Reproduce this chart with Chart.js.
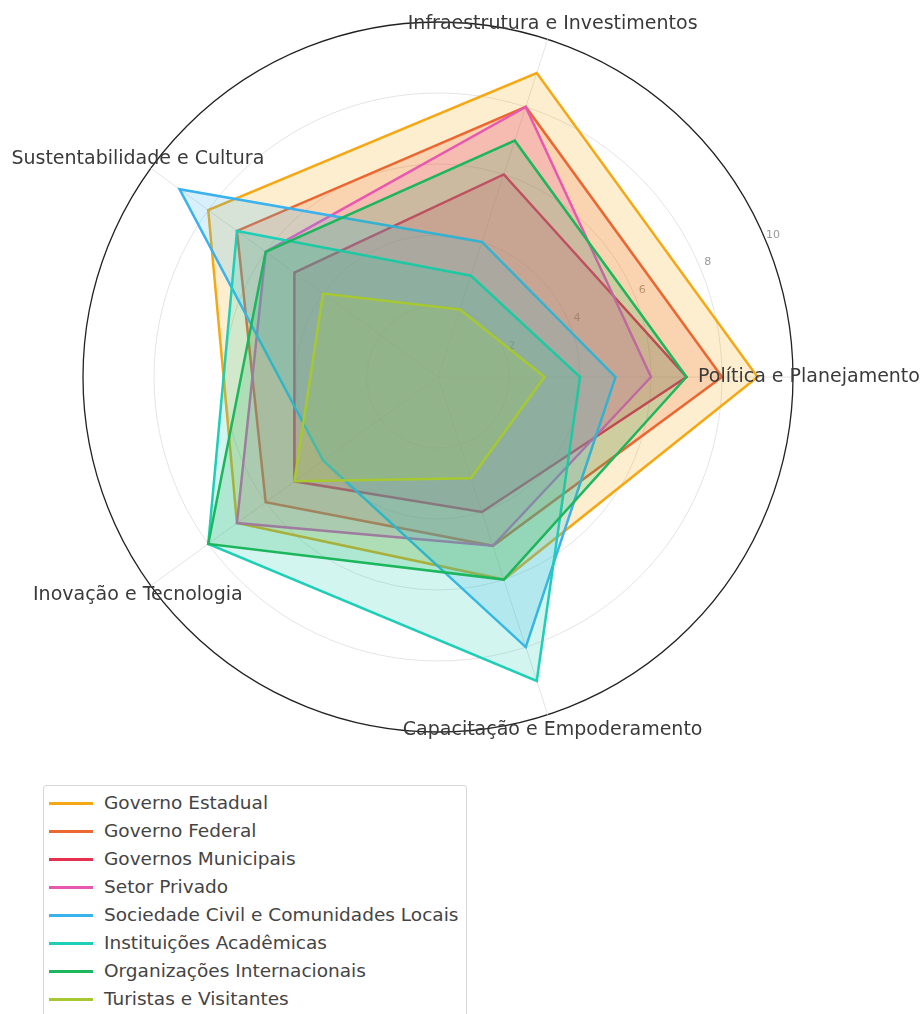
<!DOCTYPE html>
<html>
<head>
<meta charset="utf-8">
<title>Radar</title>
<script src="https://cdn.jsdelivr.net/npm/chart.js@4.4.1/dist/chart.umd.min.js"></script>
<style>
  html, body { margin: 0; padding: 0; background: #fff; }
  #wrap { position: relative; width: 924px; height: 1014px; overflow: hidden; }
  #radar { position: absolute; left: 0; top: 0; }
  #legend {
    position: absolute; left: 43px; top: 785px; width: 422px;
    border: 1px solid #d6d6d6; border-radius: 3px; background: #fff;
    padding: 3px 0 4px 0;
    font-family: "DejaVu Sans", sans-serif; font-size: 18.5px; color: #444;
  }
  #legend .item { height: 28px; line-height: 28px; display: flex; align-items: center; white-space: nowrap; }
  #legend .swatch { width: 44px; height: 3px; margin: 0 11px 0 5px; flex: none; }
</style>
</head>
<body>
<div id="wrap">
  <canvas id="radar" width="924" height="1014"></canvas>
  <div id="legend"></div>
</div>
<script>
// categories, counter-clockwise from the right like the original
const categorias = ['Política e Planejamento', 'Infraestrutura e Investimentos', 'Sustentabilidade e Cultura', 'Inovação e Tecnologia', 'Capacitação e Empoderamento']

const governoEstadual = [9, 9, 8, 7, 6]
const governoFederal = [8, 8, 7, 6, 5]
const governosMunicipais = [7, 6, 5, 5, 4]
const setorPrivado = [6, 8, 6, 7, 5]
const sociedadeCivil = [5, 4, 9, 4, 8]
const instituicoesAcademicas = [4, 3, 7, 8, 9]
const organizacoesInternacionais = [7, 7, 6, 8, 6]
const turistas = [3, 2, 4, 5, 3]

const tickValues = [2, 4, 6, 8, 10]

const series = [
  { label: 'Governo Estadual', data: governoEstadual, color: '245, 168, 20' },
  { label: 'Governo Federal', data: governoFederal, color: '236, 102, 48' },
  { label: 'Governos Municipais', data: governosMunicipais, color: '230, 48, 80' },
  { label: 'Setor Privado', data: setorPrivado, color: '232, 88, 176' },
  { label: 'Sociedade Civil e Comunidades Locais', data: sociedadeCivil, color: '58, 178, 238' },
  { label: 'Instituições Acadêmicas', data: instituicoesAcademicas, color: '30, 206, 182' },
  { label: 'Organizações Internacionais', data: organizacoesInternacionais, color: '28, 182, 92' },
  { label: 'Turistas e Visitantes', data: turistas, color: '166, 200, 48' }
]

// chart.js goes clockwise, so flip the order after the first axis
const ordem = [0, 4, 3, 2, 1]
const reorder = arr => ordem.map(i => arr[i])

const axisText = {
  id: 'axisText',
  beforeDatasetsDraw(chart) {
    const scale = chart.scales.r
    const ctx = chart.ctx
    const ang = -23 * Math.PI / 180
    ctx.save()
    ctx.font = '11px "DejaVu Sans"'
    ctx.fillStyle = '#999'
    ctx.textAlign = 'center'
    ctx.textBaseline = 'middle'
    tickValues.forEach(v => {
      const r = scale.getDistanceFromCenterForValue(v) + 9
      ctx.fillText(String(v), scale.xCenter + r * Math.cos(ang), scale.yCenter + r * Math.sin(ang))
    })
    ctx.restore()
  },
  afterDraw(chart) {
    const scale = chart.scales.r
    const ctx = chart.ctx
    ctx.save()
    ctx.font = '19px "DejaVu Sans"'
    ctx.fillStyle = '#3a3a3a'
    ctx.textAlign = 'center'
    ctx.textBaseline = 'middle'
    chart.data.labels.forEach((lab, i) => {
      const p = scale.getPointPosition(i, scale.getDistanceFromCenterForValue(10) + 16)
      ctx.fillText(lab, p.x, p.y)
    })
    ctx.restore()
  }
}

const chart = new Chart(document.getElementById('radar').getContext('2d'), {
  type: 'radar',
  data: {
    labels: reorder(categorias),
    datasets: series.map((s, i) => ({
      label: s.label,
      data: reorder(s.data),
      borderColor: `rgb(${s.color})`,
      backgroundColor: `rgba(${s.color}, 0.2)`,
      borderWidth: 2.5,
      pointRadius: 0,
      fill: true,
      order: series.length - i
    }))
  },
  options: {
    responsive: false,
    animation: false,
    layout: { padding: { left: 83, top: 22, right: 131, bottom: 282 } },
    plugins: {
      legend: { display: false },
      tooltip: { enabled: false }
    },
    scales: {
      r: {
        min: 0,
        max: 10,
        startAngle: 90,
        ticks: { display: false, stepSize: 2 },
        pointLabels: { display: false },
        grid: {
          circular: true,
          color: c => c.tick && c.tick.value === 10 ? '#222' : '#e4e4e4',
          lineWidth: c => c.tick && c.tick.value === 10 ? 1.3 : 1
        },
        angleLines: { color: '#e4e4e4' }
      }
    }
  },
  plugins: [axisText]
})

// legend as html, built from the same series
const legend = document.getElementById('legend')
series.forEach(s => {
  const item = document.createElement('div')
  item.className = 'item'
  item.innerHTML = `<span class="swatch" style="background: rgb(${s.color})"></span><span>${s.label}</span>`
  legend.appendChild(item)
})
</script>
</body>
</html>
